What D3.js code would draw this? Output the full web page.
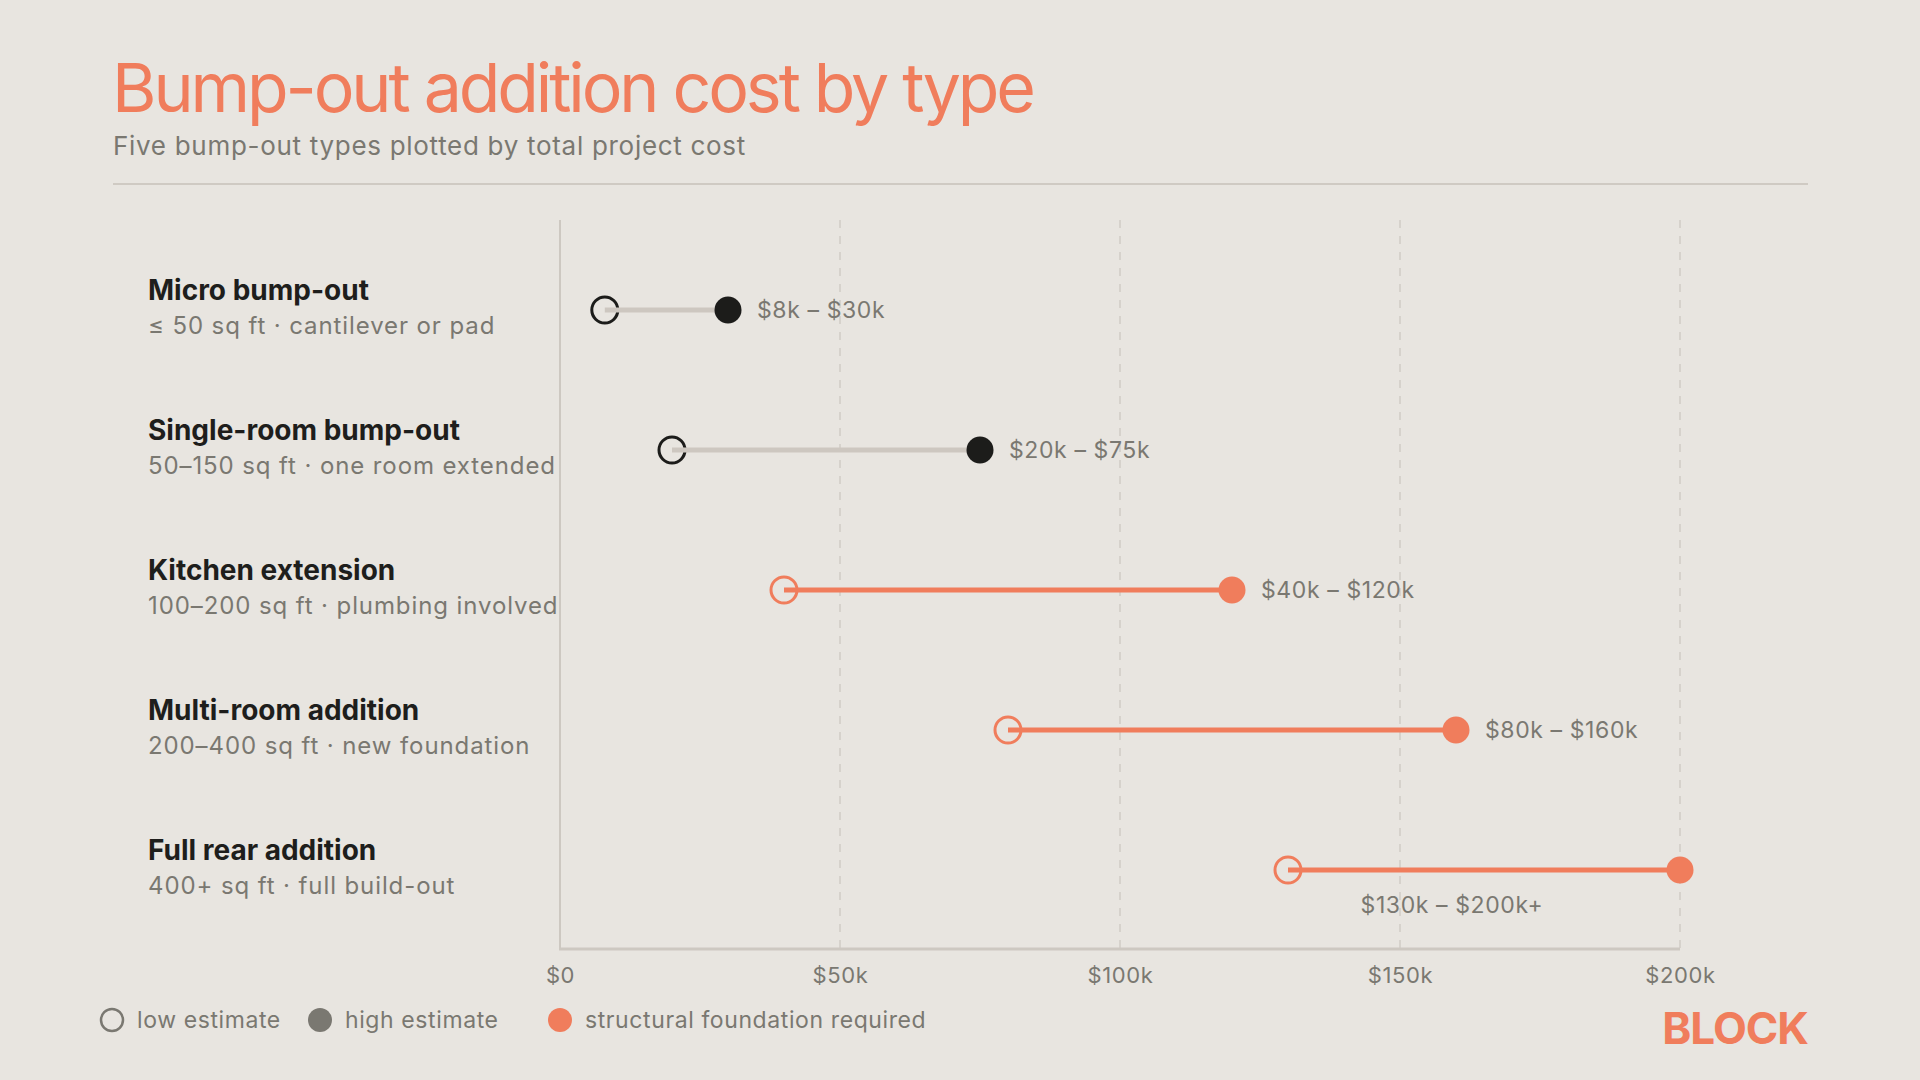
<!DOCTYPE html>
<html>
<head>
<meta charset="utf-8">
<script src="https://cdn.jsdelivr.net/npm/d3@7/dist/d3.min.js"></script>
<style>
  html, body { margin: 0; padding: 0; background: #e8e5e0; }
  svg { display: block; font-family: Inter, "Noto Sans", sans-serif; }
</style>
</head>
<body>
<div id="chart"></div>
<script>
const categories = ['Micro bump-out', 'Single-room bump-out', 'Kitchen extension', 'Multi-room addition', 'Full rear addition'];
const details = ['≤ 50 sq ft · cantilever or pad', '50–150 sq ft · one room extended', '100–200 sq ft · plumbing involved', '200–400 sq ft · new foundation', '400+ sq ft · full build-out'];
const lowValues = [8, 20, 40, 80, 130];   // $k
const highValues = [30, 75, 120, 160, 200];
const rangeLabels = ['$8k – $30k', '$20k – $75k', '$40k – $120k', '$80k – $160k', '$130k – $200k+'];
const structural = [false, false, true, true, true];
const tickValues = [0, 50, 100, 150, 200];
const tickLabels = ['$0', '$50k', '$100k', '$150k', '$200k'];

const rows = categories.map((name, i) => ({
  name, detail: details[i], low: lowValues[i], high: highValues[i],
  label: rangeLabels[i], structural: structural[i]
}));

const W = 1920, H = 1080;
const orange = '#f07d5c';
const dark = '#1c1c1a';
const grey = '#7a7871';

const svg = d3.select('#chart').append('svg')
  .attr('width', W).attr('height', H);

svg.append('rect').attr('width', W).attr('height', H).attr('fill', '#e8e5e0');

// header
svg.append('text')
  .attr('x', 112).attr('y', 112)
  .attr('fill', orange)
  .style('font-size', '68px')
  .style('letter-spacing', '-3.1px')
  .text('Bump-out addition cost by type');

svg.append('text')
  .attr('x', 113).attr('y', 155)
  .attr('fill', grey)
  .style('font-size', '26px')
  .style('letter-spacing', '0.7px')
  .text('Five bump-out types plotted by total project cost');

svg.append('line')
  .attr('x1', 113).attr('x2', 1808).attr('y1', 184).attr('y2', 184)
  .attr('stroke', '#cfcac3').attr('stroke-width', 2);

const x = d3.scaleLinear().domain([0, 200]).range([560, 1680]);
const y = d3.scalePoint().domain(categories).range([310, 870]);
const plotTop = 220, plotBottom = 949;

// gridlines
svg.append('g')
  .selectAll('line')
  .data(tickValues.filter((d) => d > 0))
  .enter()
  .append('line')
    .attr('x1', (d) => x(d)).attr('x2', (d) => x(d))
    .attr('y1', plotTop).attr('y2', plotBottom)
    .attr('stroke', '#d6d2cc').attr('stroke-width', 2)
    .attr('stroke-dasharray', '8,8');

// axes lines
svg.append('line')
  .attr('x1', x(0)).attr('x2', x(0)).attr('y1', plotTop).attr('y2', plotBottom)
  .attr('stroke', '#cdc8c1').attr('stroke-width', 2);
svg.append('line')
  .attr('x1', x(0) - 1).attr('x2', x(200)).attr('y1', plotBottom).attr('y2', plotBottom)
  .attr('stroke', '#cdc8c1').attr('stroke-width', 3);

const xAxis = svg.append('g')
  .attr('transform', `translate(0,${plotBottom})`)
  .call(d3.axisBottom(x).tickValues(tickValues).tickSize(0).tickPadding(0)
    .tickFormat((d, i) => tickLabels[i]));
xAxis.select('.domain').remove();
xAxis.selectAll('text')
  .attr('y', 34).attr('dy', null)
  .attr('fill', grey)
  .style('font-size', '22px')
  .style('letter-spacing', '0.6px')
  .style('font-family', 'Inter, sans-serif');

// row labels
const labels = svg.append('g').selectAll('g').data(rows).enter().append('g')
  .attr('transform', (d) => `translate(148,${y(d.name)})`);
labels.append('text')
  .attr('y', -10)
  .attr('fill', '#1e1e1c')
  .style('font-size', '28px').style('font-weight', 700)
  .text((d) => d.name);
labels.append('text')
  .attr('y', 24)
  .attr('fill', grey)
  .style('font-size', '24px')
  .style('letter-spacing', '0.9px')
  .text((d) => d.detail);

// dumbbells
const dots = svg.append('g').selectAll('g').data(rows).enter().append('g');
dots.append('circle')
  .attr('cx', (d) => x(d.low)).attr('cy', (d) => y(d.name))
  .attr('r', 13)
  .attr('fill', 'none')
  .attr('stroke', (d) => d.structural ? orange : dark)
  .attr('stroke-width', 3);
dots.append('line')
  .attr('x1', (d) => x(d.low)).attr('x2', (d) => x(d.high))
  .attr('y1', (d) => y(d.name)).attr('y2', (d) => y(d.name))
  .attr('stroke', (d) => d.structural ? orange : '#cdc7c0')
  .attr('stroke-width', 5);
dots.append('circle')
  .attr('cx', (d) => x(d.high)).attr('cy', (d) => y(d.name))
  .attr('r', 13.5)
  .attr('fill', (d) => d.structural ? orange : dark);
dots.append('text')
  .attr('x', (d, i) => i === rows.length - 1 ? (x(d.low) + x(d.high)) / 2 - 32 : x(d.high) + 29)
  .attr('y', (d, i) => i === rows.length - 1 ? y(d.name) + 43 : y(d.name) + 8)
  .attr('text-anchor', (d, i) => i === rows.length - 1 ? 'middle' : 'start')
  .attr('fill', grey)
  .style('font-size', '23px')
  .style('letter-spacing', '0.6px')
  .text((d) => d.label);

// legend
const legend = svg.append('g').attr('transform', 'translate(0,1020)');
const legendItems = [
  { x: 112, label: 'low estimate', fill: 'none', stroke: grey },
  { x: 320, label: 'high estimate', fill: grey, stroke: 'none' },
  { x: 560, label: 'structural foundation required', fill: orange, stroke: 'none' },
];
const li = legend.selectAll('g').data(legendItems).enter().append('g')
  .attr('transform', (d) => `translate(${d.x},0)`);
li.append('circle')
  .attr('r', (d) => d.fill === 'none' ? 11 : 12)
  .attr('fill', (d) => d.fill)
  .attr('stroke', (d) => d.stroke)
  .attr('stroke-width', 2.5);
li.append('text')
  .attr('x', 25).attr('y', 8)
  .attr('fill', grey)
  .style('font-size', '23px')
  .style('letter-spacing', '0.6px')
  .text((d) => d.label);

svg.append('text')
  .attr('x', 1808).attr('y', 1044)
  .attr('text-anchor', 'end')
  .attr('fill', orange)
  .style('font-size', '44px').style('font-weight', 700)
  .style('letter-spacing', '-1px')
  .text('BLOCK');
</script>
</body>
</html>
